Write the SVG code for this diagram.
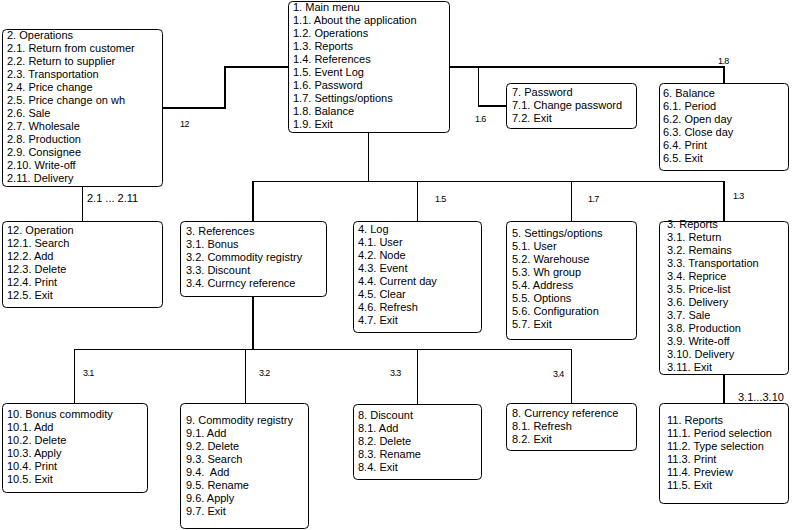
<svg xmlns="http://www.w3.org/2000/svg" width="800" height="530" viewBox="0 0 800 530">
<style>
.box{fill:#fff;stroke:#000;stroke-width:1}
.t{font-family:"Liberation Sans",Arial,sans-serif;font-size:11px;fill:#000;white-space:pre}
.lbl{font-family:"Liberation Sans",Arial,sans-serif;font-size:9px;letter-spacing:-0.6px;fill:#000}
.thin{stroke:#000;stroke-width:1;fill:none}
.thick{stroke:#000;stroke-width:2;fill:none}
</style>
<rect width="800" height="530" fill="#fff"/>
<g id="connectors">
<polyline class="thick" points="162,108 225,108 225,67 288,67"/>
<polyline class="thick" points="449,67 724,67 724,83"/>
<line class="thin" x1="478.5" y1="67" x2="478.5" y2="106"/>
<line class="thick" x1="478" y1="106" x2="506" y2="106"/>
<line class="thin" x1="368.5" y1="132" x2="368.5" y2="181"/>
<line class="thin" x1="253" y1="181.5" x2="724" y2="181.5"/>
<line class="thick" x1="253" y1="181" x2="253" y2="221"/>
<line class="thin" x1="417.5" y1="181" x2="417.5" y2="221"/>
<line class="thin" x1="571.5" y1="181" x2="571.5" y2="221"/>
<line class="thick" x1="724" y1="181" x2="724" y2="221"/>
<line class="thin" x1="82.5" y1="186" x2="82.5" y2="221"/>
<line class="thick" x1="253" y1="296" x2="253" y2="349"/>
<line class="thin" x1="74" y1="349.5" x2="572" y2="349.5"/>
<line class="thin" x1="74.5" y1="349" x2="74.5" y2="403"/>
<line class="thin" x1="245.5" y1="349" x2="245.5" y2="403"/>
<line class="thin" x1="417.5" y1="349" x2="417.5" y2="404"/>
<line class="thin" x1="571.5" y1="349" x2="571.5" y2="403"/>
<line class="thick" x1="724" y1="374" x2="724" y2="403"/>
<text class="lbl" x="180" y="127">12</text>
<text class="lbl" x="718" y="64">1.8</text>
<text class="lbl" x="475" y="122">1.6</text>
<text class="lbl" x="435" y="202">1.5</text>
<text class="lbl" x="588" y="202">1.7</text>
<text class="lbl" x="733" y="199">1.3</text>
<text class="t" x="87" y="202">2.1 ... 2.11</text>
<text class="t" x="738" y="401">3.1...3.10</text>
<text class="lbl" x="83" y="376">3.1</text>
<text class="lbl" x="259" y="376">3.2</text>
<text class="lbl" x="390" y="376">3.3</text>
<text class="lbl" x="553" y="377">3.4</text>
</g>
<g id="main">
<rect class="box" x="288.5" y="1.5" width="161" height="131" rx="4"/>
<text class="t" x="293" y="11"><tspan x="293">1. Main menu</tspan><tspan x="293" dy="13">1.1. About the application</tspan><tspan x="293" dy="13">1.2. Operations</tspan><tspan x="293" dy="13">1.3. Reports</tspan><tspan x="293" dy="13">1.4. References</tspan><tspan x="293" dy="13">1.5. Event Log</tspan><tspan x="293" dy="13">1.6. Password</tspan><tspan x="293" dy="13">1.7. Settings/options</tspan><tspan x="293" dy="13">1.8. Balance</tspan><tspan x="293" dy="13">1.9. Exit</tspan></text>
</g>
<g id="operations">
<rect class="box" x="2.5" y="29.5" width="160" height="157" rx="4"/>
<text class="t" x="7" y="38.5"><tspan x="7">2. Operations</tspan><tspan x="7" dy="13">2.1. Return from customer</tspan><tspan x="7" dy="13">2.2. Return to supplier</tspan><tspan x="7" dy="13">2.3. Transportation</tspan><tspan x="7" dy="13">2.4. Price change</tspan><tspan x="7" dy="13">2.5. Price change on wh</tspan><tspan x="7" dy="13">2.6. Sale</tspan><tspan x="7" dy="13">2.7. Wholesale</tspan><tspan x="7" dy="13">2.8. Production</tspan><tspan x="7" dy="13">2.9. Consignee</tspan><tspan x="7" dy="13">2.10. Write-off</tspan><tspan x="7" dy="13">2.11. Delivery</tspan></text>
</g>
<g id="password">
<rect class="box" x="506.5" y="83.5" width="130" height="45" rx="4"/>
<text class="t" x="512" y="96"><tspan x="512">7. Password</tspan><tspan x="512" dy="13">7.1. Change password</tspan><tspan x="512" dy="13">7.2. Exit</tspan></text>
</g>
<g id="balance">
<rect class="box" x="659.5" y="83.5" width="129" height="87" rx="4"/>
<text class="t" x="663" y="97"><tspan x="663">6. Balance</tspan><tspan x="663" dy="13">6.1. Period</tspan><tspan x="663" dy="13">6.2. Open day</tspan><tspan x="663" dy="13">6.3. Close day</tspan><tspan x="663" dy="13">6.4. Print</tspan><tspan x="663" dy="13">6.5. Exit</tspan></text>
</g>
<g id="operation12">
<rect class="box" x="2.5" y="221.5" width="160" height="86" rx="4"/>
<text class="t" x="7" y="234"><tspan x="7">12. Operation</tspan><tspan x="7" dy="13">12.1. Search</tspan><tspan x="7" dy="13">12.2. Add</tspan><tspan x="7" dy="13">12.3. Delete</tspan><tspan x="7" dy="13">12.4. Print</tspan><tspan x="7" dy="13">12.5. Exit</tspan></text>
</g>
<g id="references">
<rect class="box" x="180.5" y="221.5" width="146" height="75" rx="4"/>
<text class="t" x="186" y="235"><tspan x="186">3. References</tspan><tspan x="186" dy="13">3.1. Bonus</tspan><tspan x="186" dy="13">3.2. Commodity registry</tspan><tspan x="186" dy="13">3.3. Discount</tspan><tspan x="186" dy="13">3.4. Currncy reference</tspan></text>
</g>
<g id="log">
<rect class="box" x="353.5" y="221.5" width="128" height="111" rx="4"/>
<text class="t" x="358" y="233"><tspan x="358">4. Log</tspan><tspan x="358" dy="13">4.1. User</tspan><tspan x="358" dy="13">4.2. Node</tspan><tspan x="358" dy="13">4.3. Event</tspan><tspan x="358" dy="13">4.4. Current day</tspan><tspan x="358" dy="13">4.5. Clear</tspan><tspan x="358" dy="13">4.6. Refresh</tspan><tspan x="358" dy="13">4.7. Exit</tspan></text>
</g>
<g id="settings">
<rect class="box" x="506.5" y="221.5" width="130" height="118" rx="4"/>
<text class="t" x="512" y="237"><tspan x="512">5. Settings/options</tspan><tspan x="512" dy="13">5.1. User</tspan><tspan x="512" dy="13">5.2. Warehouse</tspan><tspan x="512" dy="13">5.3. Wh group</tspan><tspan x="512" dy="13">5.4. Address</tspan><tspan x="512" dy="13">5.5. Options</tspan><tspan x="512" dy="13">5.6. Configuration</tspan><tspan x="512" dy="13">5.7. Exit</tspan></text>
</g>
<g id="reports">
<rect class="box" x="659.5" y="221.5" width="129" height="153" rx="4"/>
<text class="t" x="667" y="228"><tspan x="667">3. Reports</tspan><tspan x="667" dy="13">3.1. Return</tspan><tspan x="667" dy="13">3.2. Remains</tspan><tspan x="667" dy="13">3.3. Transportation</tspan><tspan x="667" dy="13">3.4. Reprice</tspan><tspan x="667" dy="13">3.5. Price-list</tspan><tspan x="667" dy="13">3.6. Delivery</tspan><tspan x="667" dy="13">3.7. Sale</tspan><tspan x="667" dy="13">3.8. Production</tspan><tspan x="667" dy="13">3.9. Write-off</tspan><tspan x="667" dy="13">3.10. Delivery</tspan><tspan x="667" dy="13">3.11. Exit</tspan></text>
</g>
<g id="reports11">
<rect class="box" x="659.5" y="403.5" width="129" height="100" rx="4"/>
<text class="t" x="667" y="424"><tspan x="667">11. Reports</tspan><tspan x="667" dy="13">11.1. Period selection</tspan><tspan x="667" dy="13">11.2. Type selection</tspan><tspan x="667" dy="13">11.3. Print</tspan><tspan x="667" dy="13">11.4. Preview</tspan><tspan x="667" dy="13">11.5. Exit</tspan></text>
</g>
<g id="bonus">
<rect class="box" x="2.5" y="403.5" width="145" height="89" rx="4"/>
<text class="t" x="7" y="418"><tspan x="7">10. Bonus commodity</tspan><tspan x="7" dy="13">10.1. Add</tspan><tspan x="7" dy="13">10.2. Delete</tspan><tspan x="7" dy="13">10.3. Apply</tspan><tspan x="7" dy="13">10.4. Print</tspan><tspan x="7" dy="13">10.5. Exit</tspan></text>
</g>
<g id="commodity">
<rect class="box" x="180.5" y="403.5" width="128" height="125" rx="4"/>
<text class="t" x="186" y="424"><tspan x="186">9. Commodity registry</tspan><tspan x="186" dy="13">9.1. Add</tspan><tspan x="186" dy="13">9.2. Delete</tspan><tspan x="186" dy="13">9.3. Search</tspan><tspan x="186" dy="13">9.4.  Add</tspan><tspan x="186" dy="13">9.5. Rename</tspan><tspan x="186" dy="13">9.6. Apply</tspan><tspan x="186" dy="13">9.7. Exit</tspan></text>
</g>
<g id="discount">
<rect class="box" x="353.5" y="404.5" width="128" height="75" rx="4"/>
<text class="t" x="358" y="419"><tspan x="358">8. Discount</tspan><tspan x="358" dy="13">8.1. Add</tspan><tspan x="358" dy="13">8.2. Delete</tspan><tspan x="358" dy="13">8.3. Rename</tspan><tspan x="358" dy="13">8.4. Exit</tspan></text>
</g>
<g id="currency">
<rect class="box" x="506.5" y="403.5" width="130" height="47" rx="4"/>
<text class="t" x="512" y="417"><tspan x="512">8. Currency reference</tspan><tspan x="512" dy="13">8.1. Refresh</tspan><tspan x="512" dy="13">8.2. Exit</tspan></text>
</g>
</svg>
